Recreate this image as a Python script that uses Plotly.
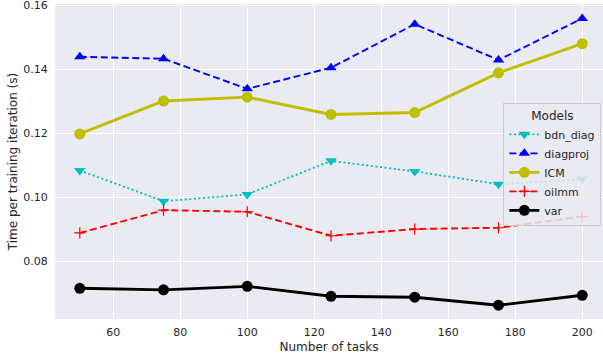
import plotly.graph_objects as go

# Training cost per iteration for each model as the number of tasks grows
tasks = [50, 75, 100, 125, 150, 175, 200]

bdn_diag = [0.1084, 0.0988, 0.1009, 0.1114, 0.1081, 0.1041, 0.1057]
diagproj = [0.1439, 0.1433, 0.1339, 0.1405, 0.1541, 0.1429, 0.1559]
icm = [0.1198, 0.1301, 0.1313, 0.1259, 0.1265, 0.1389, 0.1480]
oilmm = [0.0889, 0.0960, 0.0955, 0.0880, 0.0901, 0.0905, 0.0940]
var = [0.0716, 0.0711, 0.0722, 0.0691, 0.0688, 0.0663, 0.0694]

x_ticks = [60, 80, 100, 120, 140, 160, 180, 200]
y_ticks = [0.08, 0.10, 0.12, 0.14, 0.16]

TEXT = "#262626"
FONT = "DejaVu Sans"

fig = go.Figure()

fig.add_trace(go.Scatter(
    x=tasks, y=bdn_diag, name="bdn_diag", mode="lines+markers",
    line=dict(color="#00BFBF", width=1.9, dash="2px,2.6px"),
    marker=dict(symbol="triangle-down", size=10, color="#00BFBF"),
))
fig.add_trace(go.Scatter(
    x=tasks, y=diagproj, name="diagproj", mode="lines+markers",
    line=dict(color="#0000FF", width=1.9, dash="7px,3.5px"),
    marker=dict(symbol="triangle-up", size=10, color="#0000FF"),
))
fig.add_trace(go.Scatter(
    x=tasks, y=icm, name="ICM", mode="lines+markers",
    line=dict(color="#BFBF00", width=2.9),
    marker=dict(symbol="circle", size=11, color="#BFBF00"),
))
fig.add_trace(go.Scatter(
    x=tasks, y=oilmm, name="oilmm", mode="lines+markers",
    line=dict(color="#FF0000", width=1.9, dash="7px,3.5px"),
    marker=dict(symbol="cross-thin", size=8, color="#FF0000",
                line=dict(color="#FF0000", width=1.2)),
))
fig.add_trace(go.Scatter(
    x=tasks, y=var, name="var", mode="lines+markers",
    line=dict(color="#000000", width=2.9),
    marker=dict(symbol="circle", size=11, color="#000000"),
))

fig.update_layout(
    width=603, height=358,
    margin=dict(l=55, r=0, t=4, b=39),
    paper_bgcolor="white",
    plot_bgcolor="#EAEAF2",
    font=dict(family=FONT, size=11, color=TEXT),
    legend=dict(
        title=dict(text="Models", side="top center", font=dict(size=12, color=TEXT)),
        x=0.997, y=0.685, xanchor="right", yanchor="top",
        bgcolor="rgba(234,234,242,0.85)",
        bordercolor="#CCCCCC", borderwidth=1,
        font=dict(size=11, color=TEXT),
        itemwidth=30,
    ),
    showlegend=True,
)

fig.update_xaxes(
    range=[42.6, 206.2],
    tickvals=x_ticks,
    ticks="outside", ticklen=3, tickcolor="rgba(0,0,0,0)",
    showgrid=True, gridcolor="white", gridwidth=1,
    zeroline=False, showline=False,
    tickfont=dict(size=11, color=TEXT),
    title=dict(text="Number of tasks", font=dict(size=12, color=TEXT), standoff=4),
)
fig.update_yaxes(
    range=[0.0620, 0.1604],
    tickvals=y_ticks, tickformat=".2f",
    ticks="outside", ticklen=4, tickcolor="rgba(0,0,0,0)",
    ticklabeloverflow="allow",
    showgrid=True, gridcolor="white", gridwidth=1,
    zeroline=False, showline=False,
    tickfont=dict(size=11, color=TEXT),
    title=dict(text="Time per training iteration (s)", font=dict(size=12, color=TEXT), standoff=3),
)

fig.write_html("out.html")
